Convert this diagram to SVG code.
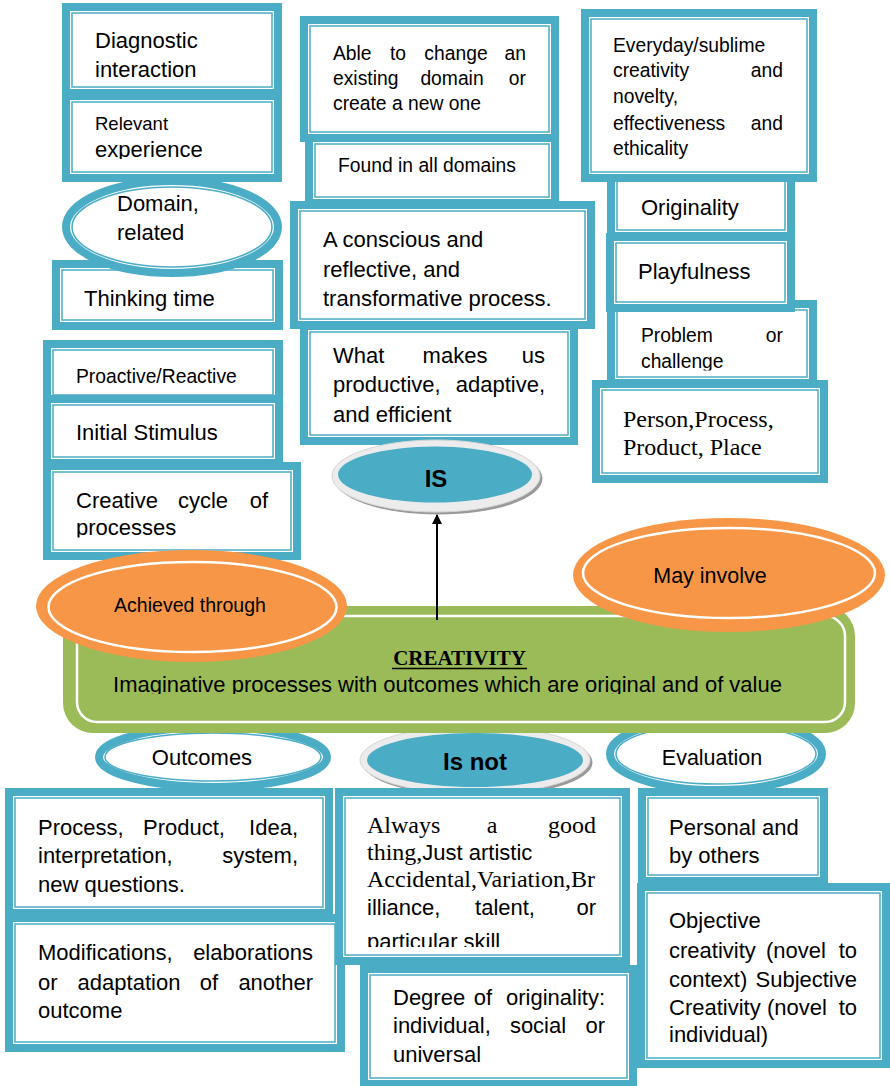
<svg xmlns="http://www.w3.org/2000/svg" width="890" height="1086" viewBox="0 0 890 1086">
<style>
.ob{fill:#fff;stroke:#4BACC6;stroke-width:8}
.ib{fill:none;stroke:#4BACC6;stroke-width:1.5}
.t{font-family:"Liberation Sans",Arial,sans-serif;font-size:22px;fill:#000}
.sm{font-size:19.3px}
.sf{font-family:"Liberation Serif","Times New Roman",serif;font-size:24px}
.m{text-anchor:middle}
.e{text-anchor:end}
.b{font-weight:bold}
.org{fill:#F79646}
.wr{fill:none;stroke:#fff;stroke-width:2.5}
</style>
<defs>
<clipPath id="c1"><rect x="0" y="0" width="890" height="159"/></clipPath>
<clipPath id="c2"><rect x="0" y="0" width="890" height="537.5"/></clipPath>
<clipPath id="c3"><rect x="0" y="0" width="890" height="370.5"/></clipPath>
<clipPath id="c4"><rect x="0" y="0" width="890" height="694"/></clipPath>
<clipPath id="c5"><rect x="0" y="0" width="890" height="947"/></clipPath>
<marker id="ah" viewBox="0 0 10 10" refX="9" refY="5" markerWidth="5" markerHeight="5" orient="auto"><path d="M0,0 L10,5 L0,10 z" fill="#000"/></marker>
</defs>

<g id="diagnostic"><rect class="ob" x="66" y="7" width="212" height="86"/><rect class="ib" x="72" y="13" width="200" height="74"/>
<text class="t" x="95" y="48">Diagnostic</text><text class="t" x="95" y="77">interaction</text></g>
<g id="relevant"><rect class="ob" x="66" y="96" width="212" height="82"/><rect class="ib" x="72" y="102" width="200" height="70"/>
<g clip-path="url(#c1)"><text class="t" x="95" y="130" style="font-size:18.5px">Relevant</text><text class="t" x="95" y="157">experience</text></g></g>
<g id="thinking"><rect class="ob" x="56" y="264" width="223" height="62"/><rect class="ib" x="62" y="270" width="211" height="50"/>
<text class="t" x="84" y="306">Thinking time</text></g>
<g id="domain"><ellipse class="ob" cx="172" cy="227" rx="106" ry="46"/><ellipse class="ib" cx="172" cy="227" rx="100" ry="40"/>
<text class="t" x="117" y="211">Domain,</text><text class="t" x="117" y="240">related</text></g>
<g id="proactive"><rect class="ob" x="47" y="344" width="232" height="57"/><rect class="ib" x="53" y="350" width="220" height="45"/>
<text class="t sm" x="76" y="383">Proactive/Reactive</text></g>
<g id="initial"><rect class="ob" x="47" y="399" width="232" height="64"/><rect class="ib" x="53" y="405" width="220" height="52"/>
<text class="t" x="76" y="440">Initial Stimulus</text></g>
<g id="cycle"><rect class="ob" x="47" y="466" width="250" height="90"/><rect class="ib" x="53" y="472" width="238" height="78"/>
<text class="t" x="76" y="508">Creative</text><text class="t m" x="203" y="508">cycle</text><text class="t e" x="268" y="508">of</text>
<g clip-path="url(#c2)"><text class="t" x="76" y="535">processes</text></g></g>

<g id="able"><rect class="ob" x="304" y="20" width="251" height="118"/><rect class="ib" x="310" y="26" width="239" height="106"/>
<text class="t sm" x="333" y="60">Able</text><text class="t sm m" x="398" y="60">to</text><text class="t sm m" x="456" y="60">change</text><text class="t sm e" x="526" y="60">an</text>
<text class="t sm" x="333" y="85">existing</text><text class="t sm m" x="452" y="85">domain</text><text class="t sm e" x="526" y="85">or</text>
<text class="t sm" x="333" y="110">create a new one</text></g>
<g id="found"><rect class="ob" x="309" y="138" width="246" height="65"/><rect class="ib" x="315" y="144" width="234" height="53"/>
<text class="t sm" x="338" y="172">Found in all domains</text></g>
<g id="conscious"><rect class="ob" x="294" y="205" width="297" height="120"/><rect class="ib" x="300" y="211" width="285" height="108"/>
<text class="t" x="323" y="247">A conscious and</text><text class="t" x="323" y="277">reflective, and</text><text class="t" x="323" y="306">transformative process.</text></g>
<g id="whatmakes"><rect class="ob" x="304" y="326" width="270" height="115"/><rect class="ib" x="310" y="332" width="258" height="103"/>
<text class="t" x="333" y="363">What</text><text class="t m" x="455" y="363">makes</text><text class="t e" x="545" y="363">us</text>
<text class="t" x="333" y="392">productive,</text><text class="t e" x="545" y="392">adaptive,</text>
<text class="t" x="333" y="422">and efficient</text></g>
<g id="is"><ellipse cx="438.5" cy="478.5" rx="104" ry="36" fill="#9a9a9a"/><ellipse cx="436" cy="476" rx="104" ry="36" fill="#ececec" stroke="#d6d6d6" stroke-width="1"/>
<ellipse cx="435" cy="474.5" rx="97" ry="28" fill="#4BACC6"/>
<text class="t b m" x="436" y="487" style="font-size:24px">IS</text></g>

<g id="originality"><rect class="ob" x="611" y="174" width="180" height="62"/><rect class="ib" x="617" y="180" width="168" height="50"/>
<text class="t" x="641" y="215">Originality</text></g>
<g id="everyday"><rect class="ob" x="585" y="13" width="228" height="165"/><rect class="ib" x="591" y="19" width="216" height="153"/>
<text class="t sm" x="613" y="52">Everyday/sublime</text>
<text class="t sm" x="613" y="77">creativity</text><text class="t sm e" x="783" y="77">and</text>
<text class="t sm" x="613" y="103">novelty,</text>
<text class="t sm" x="613" y="130">effectiveness</text><text class="t sm e" x="783" y="130">and</text>
<text class="t sm" x="613" y="155">ethicality</text></g>
<g id="problem"><rect class="ob" x="611" y="304" width="202" height="79"/><rect class="ib" x="617" y="310" width="190" height="67"/>
<text class="t sm" x="641" y="342">Problem</text><text class="t sm e" x="783" y="342">or</text>
<g clip-path="url(#c3)"><text class="t sm" x="641" y="368">challenge</text></g></g>
<g id="playfulness"><rect class="ob" x="610" y="237" width="181" height="71"/><rect class="ib" x="616" y="243" width="169" height="59"/>
<text class="t" x="638" y="279">Playfulness</text></g>
<g id="person"><rect class="ob" x="596" y="384" width="228" height="95"/><rect class="ib" x="602" y="390" width="216" height="83"/>
<text class="t sf" x="623" y="427">Person,Process,</text><text class="t sf" x="623" y="455">Product, Place</text></g>

<g id="outcomes"><ellipse class="ob" cx="213" cy="757" rx="114" ry="30"/><ellipse class="ib" cx="213" cy="757" rx="108" ry="24"/>
<text class="t m" x="202" y="765">Outcomes</text></g>
<g id="isnot"><ellipse cx="477.5" cy="762.5" rx="115" ry="34" fill="#9a9a9a"/><ellipse cx="475" cy="760" rx="115" ry="34" fill="#ececec" stroke="#d6d6d6" stroke-width="1"/>
<ellipse cx="475" cy="760" rx="108" ry="27" fill="#4BACC6"/>
<text class="t b m" x="475" y="770" style="font-size:24px">Is not</text></g>
<g id="evaluation"><ellipse class="ob" cx="716" cy="754" rx="106" ry="36"/><ellipse class="ib" cx="716" cy="754" rx="100" ry="30"/>
<text class="t m" x="712" y="765" style="font-size:21.5px">Evaluation</text></g>

<g id="process"><rect class="ob" x="9" y="792" width="320" height="121"/><rect class="ib" x="15" y="798" width="308" height="109"/>
<text class="t" x="38" y="835">Process,</text><text class="t m" x="184" y="835">Product,</text><text class="t e" x="298" y="835">Idea,</text>
<text class="t" x="38" y="863">interpretation,</text><text class="t e" x="298" y="863">system,</text>
<text class="t" x="38" y="892">new questions.</text></g>
<g id="modifications"><rect class="ob" x="9" y="918" width="332" height="130"/><rect class="ib" x="15" y="924" width="320" height="118"/>
<text class="t" x="38" y="960">Modifications,</text><text class="t e" x="313" y="960">elaborations</text>
<text class="t" x="38" y="990">or</text><text class="t m" x="129" y="990">adaptation</text><text class="t m" x="209" y="990">of</text><text class="t e" x="313" y="990">another</text>
<text class="t" x="38" y="1018">outcome</text></g>
<g id="always"><rect class="ob" x="339" y="792" width="287" height="169"/><rect class="ib" x="345" y="798" width="275" height="157"/>
<text class="t sf" x="367" y="833">Always</text><text class="t sf m" x="492" y="833">a</text><text class="t sf e" x="596" y="833">good</text>
<text class="t" x="367" y="860"><tspan class="sf">thing,</tspan><tspan>Just artistic</tspan></text>
<text class="t sf" x="367" y="887">Accidental,Variation,Br</text>
<text class="t" x="367" y="915">illiance,</text><text class="t m" x="505" y="915">talent,</text><text class="t e" x="596" y="915">or</text>
<g clip-path="url(#c5)"><text class="t" x="367" y="949">particular skill</text></g></g>
<g id="degree"><rect class="ob" x="364" y="969" width="269" height="115"/><rect class="ib" x="370" y="975" width="257" height="103"/>
<text class="t" x="393" y="1005">Degree</text><text class="t m" x="483" y="1005">of</text><text class="t e" x="605" y="1005">originality:</text>
<text class="t" x="393" y="1033">individual,</text><text class="t m" x="538" y="1033">social</text><text class="t e" x="605" y="1033">or</text>
<text class="t" x="393" y="1062">universal</text></g>
<g id="personal"><rect class="ob" x="642" y="792" width="182" height="89"/><rect class="ib" x="648" y="798" width="170" height="77"/>
<text class="t" x="669" y="835">Personal and</text><text class="t" x="669" y="863">by others</text></g>
<g id="objective"><rect class="ob" x="641" y="887" width="245" height="177"/><rect class="ib" x="647" y="893" width="233" height="165"/>
<text class="t" x="669" y="928">Objective</text>
<text class="t" x="669" y="958">creativity</text><text class="t m" x="796" y="958">(novel</text><text class="t e" x="857" y="958">to</text>
<text class="t" x="669" y="987">context)</text><text class="t e" x="857" y="987">Subjective</text>
<text class="t" x="669" y="1015">Creativity</text><text class="t m" x="797" y="1015">(novel</text><text class="t e" x="857" y="1015">to</text>
<text class="t" x="669" y="1042">individual)</text></g>

<g id="creativity"><rect x="63" y="606" width="792" height="127" rx="30" fill="#9BBB59"/><rect x="77" y="616" width="768" height="106" rx="20" fill="none" stroke="#fff" stroke-width="2.5"/>
<text class="m b" x="459.5" y="665" style="font-family:'Liberation Serif','Times New Roman',serif;font-size:21px">CREATIVITY</text>
<line x1="392" y1="668.5" x2="527" y2="668.5" stroke="#000" stroke-width="1.5"/>
<g clip-path="url(#c4)"><text class="t m" x="447.5" y="691.5">Imaginative processes with outcomes which are original and of value</text></g></g>
<g id="achieved"><ellipse class="org" cx="191.5" cy="606" rx="155.5" ry="56"/><ellipse class="wr" cx="192.5" cy="607" rx="144" ry="45"/>
<text class="t m" x="190" y="612" style="font-size:19.5px">Achieved through</text></g>
<g id="mayinvolve"><ellipse class="org" cx="729" cy="575" rx="156" ry="57"/><ellipse class="wr" cx="729" cy="573" rx="146" ry="45"/>
<text class="t m" x="710" y="583" style="font-size:21.5px">May involve</text></g>

<g id="connectors"><line x1="437" y1="620" x2="437" y2="515" stroke="#000" stroke-width="2" marker-end="url(#ah)"/></g>
</svg>
